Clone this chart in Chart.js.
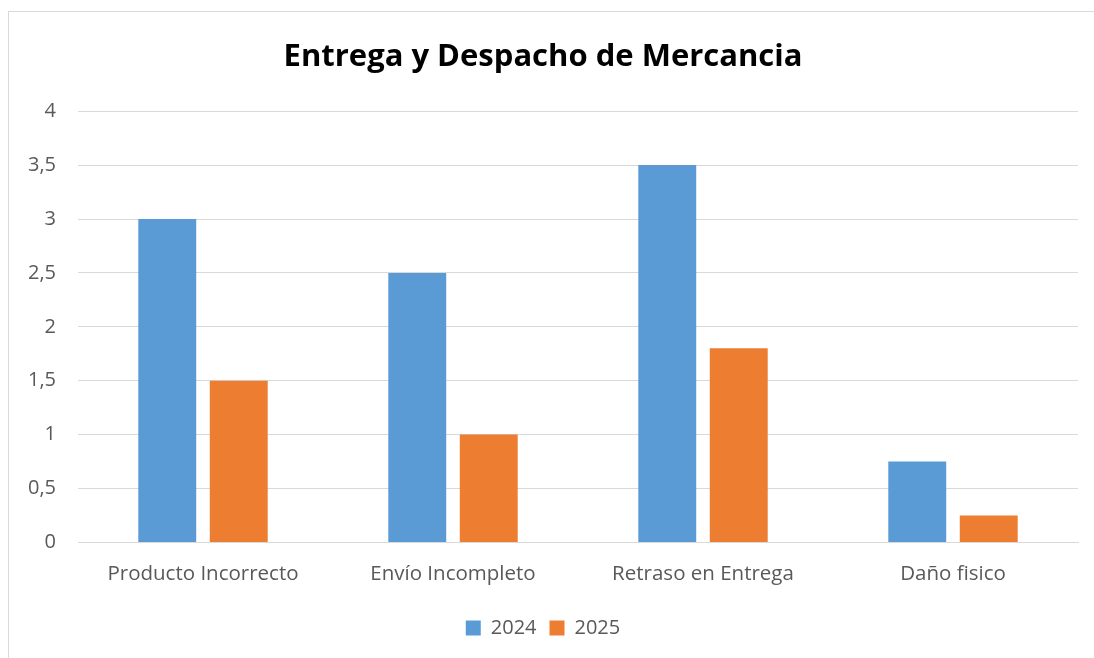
<!DOCTYPE html>
<html>
<head>
<meta charset="utf-8">
<script src="https://cdn.jsdelivr.net/npm/chart.js@4.4.0/dist/chart.umd.min.js"></script>
<style>
  html, body { margin: 0; padding: 0; background: #ffffff; }
  #wrap { position: relative; width: 1094px; height: 658px; overflow: hidden; }
  #frame { position: absolute; left: 8px; top: 11px; width: 1100px; height: 700px; border: 1px solid #d9d9d9; box-sizing: border-box; }
  canvas { position: absolute; left: 0; top: 0; }
</style>
</head>
<body>
<div id="wrap">
  <div id="frame"></div>
  <canvas id="c" width="1094" height="658"></canvas>
</div>
<script>
const categories = ["Producto Incorrecto", "Envío Incompleto", "Retraso en Entrega", "Daño fisico"];
const series2024 = [3, 2.5, 3.5, 0.75];
const series2025 = [1.5, 1, 1.8, 0.25];
const seriesNames = ["2024", "2025"];
const yTicks = [0, 0.5, 1, 1.5, 2, 2.5, 3, 3.5, 4];

const FONT = "'Open Sans', 'Noto Sans', sans-serif";

new Chart(document.getElementById('c'), {
  type: 'bar',
  data: {
    labels: categories,
    datasets: [
      { label: seriesNames[0], data: series2024, backgroundColor: '#5b9bd5', borderWidth: 0 },
      { label: seriesNames[1], data: series2025, backgroundColor: '#ed7d31', borderWidth: 0 }
    ]
  },
  options: {
    responsive: false,
    animation: false,
    devicePixelRatio: 1,
    layout: { padding: { left: 8, right: 16, top: 33, bottom: 10 } },
    datasets: { bar: { categoryPercentage: 0.572, barPercentage: 0.81 } },
    plugins: {
      title: {
        display: true,
        text: 'Entrega y Despacho de Mercancia',
        color: '#000000',
        font: { family: FONT, size: 31, weight: 'bold' },
        padding: { top: 6, bottom: 35 }
      },
      legend: {
        display: true,
        position: 'bottom',
        labels: {
          color: '#595959',
          font: { family: FONT, size: 20 },
          boxWidth: 15, boxHeight: 15,
          padding: 13
        }
      },
      tooltip: { enabled: false }
    },
    scales: {
      x: {
        grid: { display: false, drawTicks: false },
        border: { display: true, color: '#d9d9d9', width: 1 },
        ticks: { color: '#595959', font: { family: FONT, size: 20.5 }, padding: 19 }
      },
      y: {
        min: 0, max: 4,
        afterBuildTicks: (s) => { s.ticks = yTicks.map(v => ({ value: v })); },
        afterFit: (s) => { s.width = 70; },
        grid: { color: '#d9d9d9', drawTicks: false, lineWidth: 1 },
        border: { display: false },
        ticks: {
          color: '#595959', font: { family: FONT, size: 20 }, padding: 22,
          callback: (v) => String(v).replace('.', ',')
        }
      }
    }
  }
});
</script>
</body>
</html>
